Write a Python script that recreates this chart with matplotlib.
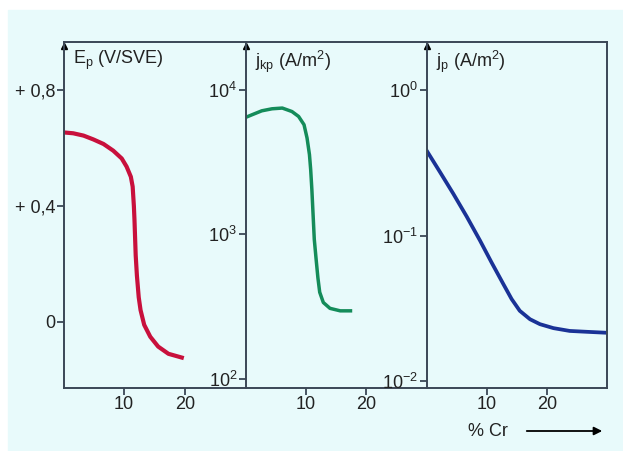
import matplotlib
matplotlib.use("Agg")
import matplotlib.pyplot as plt
from matplotlib.patches import Rectangle

plt.rcParams['font.family'] = 'Liberation Sans'
plt.rcParams['mathtext.fontset'] = 'custom'
plt.rcParams['mathtext.rm'] = 'Liberation Sans'
plt.rcParams['mathtext.it'] = 'Liberation Sans:italic'
plt.rcParams['mathtext.bf'] = 'Liberation Sans:bold'

# passivation potential E_p vs % Cr
cr_ep = [0.0, 1.6, 3.3, 4.9, 6.6, 8.2, 9.6, 10.4, 11.1, 11.4, 11.6, 11.7, 11.9, 12.1,
         12.4, 12.7, 13.3, 14.3, 15.6, 17.3, 19.5]
ep = [0.654, 0.651, 0.643, 0.630, 0.614, 0.591, 0.564, 0.536, 0.501, 0.467, 0.400, 0.352,
      0.230, 0.160, 0.085, 0.041, -0.010, -0.051, -0.085, -0.110, -0.123]

# critical passivation current density j_kp
cr_jkp = [0.0, 1.1, 2.7, 4.4, 6.1, 7.7, 8.8, 9.7, 10.2, 10.6, 10.8, 11.0, 11.4, 11.7,
          12.0, 12.3, 12.9, 14.0, 15.7, 17.4]
jkp = [6442, 6730, 7161, 7396, 7482, 7079, 6546, 5741, 4645, 3565, 2818, 2042, 925, 676,
       501, 398, 338, 308, 296, 296]

# passive current density j_p
cr_jp = [0.0, 2.24, 4.45, 6.68, 8.89, 10.8, 12.76, 14.15, 15.5, 17.2, 18.85, 21.1, 23.8,
         26.6, 29.6]
jp = [0.3855, 0.2735, 0.1941, 0.1352, 0.0925, 0.0655, 0.0465, 0.0366, 0.0304, 0.0266,
      0.0246, 0.0231, 0.0221, 0.0218, 0.0215]

ep_ticks = [0, 0.4, 0.8]
ep_labels = ['0', '+ 0,4', '+ 0,8']
jkp_ticks = [1e2, 1e3, 1e4]
jkp_labels = [r'$10^{2}$', r'$10^{3}$', r'$10^{4}$']
jp_ticks = [1e-2, 1e-1, 1e0]
jp_labels = [r'$10^{-2}$', r'$10^{-1}$', r'$10^{0}$']
x_ticks = [10, 20]

frame = '#3b4756'
bg = '#e8fafb'
W, H = 623, 451

fig = plt.figure(figsize=(W / 100, H / 100), dpi=100)
fig.patches.append(Rectangle((8 / W, 0), 1 - 8 / W, 1 - 10 / H, transform=fig.transFigure,
                             color=bg, zorder=-10))

bottom = (H - 388) / H
height = 346 / H
lefts = [63.5, 245.5, 426.5, 607]
axes = []
for i in range(3):
    ax = fig.add_axes([lefts[i] / W, bottom, (lefts[i + 1] - lefts[i]) / W, height])
    ax.set_facecolor('none')
    for s in ax.spines.values():
        s.set_color(frame)
        s.set_linewidth(1.4)
    if i < 2:
        ax.spines['right'].set_visible(False)
    ax.set_xlim(0, 30)
    ax.set_xticks(x_ticks)
    ax.tick_params(axis='both', which='major', direction='out', length=5, width=1.3,
                   color=frame, labelsize=13, pad=1, labelcolor='#222222')
    ax.plot(0, 0.988, marker='^', color='black', ms=5, transform=ax.transAxes, clip_on=False)
    axes.append(ax)

ax1, ax2, ax3 = axes

ax1.plot(cr_ep, ep, color='#c8103c', lw=3.0, solid_joinstyle='round')
ax1.set_ylim(-0.228, 0.966)
ax1.set_yticks(ep_ticks, labels=ep_labels)
ax1.text(0.05, 0.98, r'E$_\mathrm{p}$ (V/SVE)', transform=ax1.transAxes, fontsize=13,
         va='top', ha='left', color='#222222')

ax2.plot(cr_jkp, jkp, color='#148c5a', lw=2.5, solid_joinstyle='round')
ax2.set_yscale('log')
ax2.set_ylim(10 ** 1.9375, 10 ** 4.331)
ax2.set_yticks(jkp_ticks, labels=jkp_labels)
ax2.text(0.05, 0.98, r'j$_\mathrm{kp}$ (A/m$^2$)', transform=ax2.transAxes, fontsize=13,
         va='top', ha='left', color='#222222')

ax3.plot(cr_jp, jp, color='#1a3296', lw=2.7, solid_joinstyle='round')
ax3.set_yscale('log')
ax3.set_ylim(10 ** -2.048, 10 ** 0.331)
ax3.set_yticks(jp_ticks, labels=jp_labels)
ax3.text(0.05, 0.98, r'j$_\mathrm{p}$ (A/m$^2$)', transform=ax3.transAxes, fontsize=13,
         va='top', ha='left', color='#222222')

for ax in axes:
    ax.minorticks_off()

fig.text(468 / W, 1 - 431 / H, '% Cr', fontsize=13, va='center', ha='left', color='#222222')
ax3.annotate('', xy=(605 / W, 1 - 431 / H), xytext=(524 / W, 1 - 431 / H),
             xycoords='figure fraction', textcoords='figure fraction',
             arrowprops=dict(arrowstyle='-|>', color='black', lw=1.3, mutation_scale=12))

fig.savefig('out.png', dpi=100, facecolor='white')
